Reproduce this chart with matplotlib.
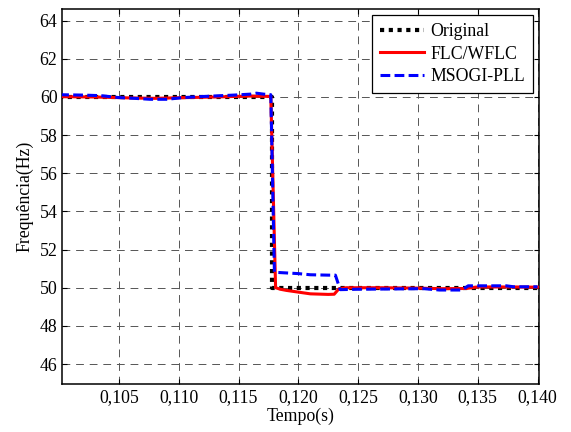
import numpy as np
import matplotlib
matplotlib.use('Agg')
import matplotlib.pyplot as plt

# Sinal original (degrau de 60 Hz para 50 Hz)
t_orig = [0.100, 0.1178, 0.1178, 0.140]
f_orig = [60.0, 60.0, 50.0, 50.0]

# FLC/WFLC
t_flc = [0.100, 0.103, 0.106, 0.108, 0.110, 0.113, 0.116, 0.1177, 0.1181,
         0.1185, 0.119, 0.120, 0.121, 0.1225, 0.1230, 0.1234, 0.124, 0.127,
         0.130, 0.132, 0.134, 0.135, 0.137, 0.140]
f_flc = [60.02, 60.0, 59.95, 59.93, 59.96, 60.0, 60.05, 60.03, 50.0,
         49.92, 49.86, 49.77, 49.68, 49.65, 49.66, 49.95, 50.0, 50.0,
         49.98, 49.95, 49.96, 50.04, 50.04, 50.03]

# MSOGI-PLL
t_pll = [0.100, 0.102, 0.1035, 0.105, 0.1063, 0.1076, 0.109, 0.1104, 0.1118,
         0.1132, 0.1146, 0.116, 0.1165, 0.1171, 0.1177, 0.1180, 0.1183, 0.120,
         0.121, 0.1225, 0.1231, 0.1235, 0.125, 0.127, 0.1305, 0.1318, 0.1337,
         0.1342, 0.1374, 0.1380, 0.140]
f_pll = [60.12, 60.1, 60.07, 59.97, 59.93, 59.88, 59.88, 59.97, 60.02,
         60.06, 60.1, 60.15, 60.2, 60.15, 60.12, 50.82, 50.8, 50.74,
         50.68, 50.66, 50.66, 49.9, 49.92, 49.93, 49.95, 49.88, 49.88,
         50.1, 50.1, 50.05, 50.05]

x_ticks = [0.105, 0.110, 0.115, 0.120, 0.125, 0.130, 0.135, 0.140]
y_ticks = [46, 48, 50, 52, 54, 56, 58, 60, 62, 64]

plt.rcParams['font.family'] = ['Liberation Serif', 'DejaVu Serif']
plt.rcParams['font.size'] = 12.8

fig = plt.figure(figsize=(5.71, 4.32), dpi=100)
ax = fig.add_axes([0.109, 0.111, 0.8355, 0.868])

ax.plot(t_orig, f_orig, color='black', lw=3.0, linestyle=(0, (1.0, 1.1)),
        label='Original', zorder=3)
ax.plot(t_flc, f_flc, color='red', lw=2.2, label='FLC/WFLC', zorder=4)
ax.plot(t_pll, f_pll, color='blue', lw=2.2, linestyle=(0, (3.2, 1.4)),
        label='MSOGI-PLL', zorder=5)

ax.set_xlim(0.10026, 0.14015)
ax.set_ylim(44.95, 64.61)
ax.set_xticks(x_ticks)
ax.set_xticklabels([f"{v:.3f}".replace('.', ',') for v in x_ticks])
ax.set_yticks(y_ticks)

ax.grid(True, color='#555555', lw=0.7, linestyle=(0, (8, 6)))
ax.tick_params(direction='in', length=3.5, width=0.8, top=True, right=True,
               labelsize=12.8)
for s in ax.spines.values():
    s.set_linewidth(1.1)

ax.set_xlabel('Tempo(s)', labelpad=1)
ax.set_ylabel('Frequência(Hz)', labelpad=4)

leg = ax.legend(loc='upper right', fontsize=12.8, handlelength=2.5,
                handletextpad=0.34, borderpad=0.45, labelspacing=0.3,
                fancybox=False, framealpha=1, borderaxespad=0.35)
leg.get_frame().set_edgecolor('black')
leg.get_frame().set_linewidth(0.9)

fig.savefig('out.png', dpi=100)
